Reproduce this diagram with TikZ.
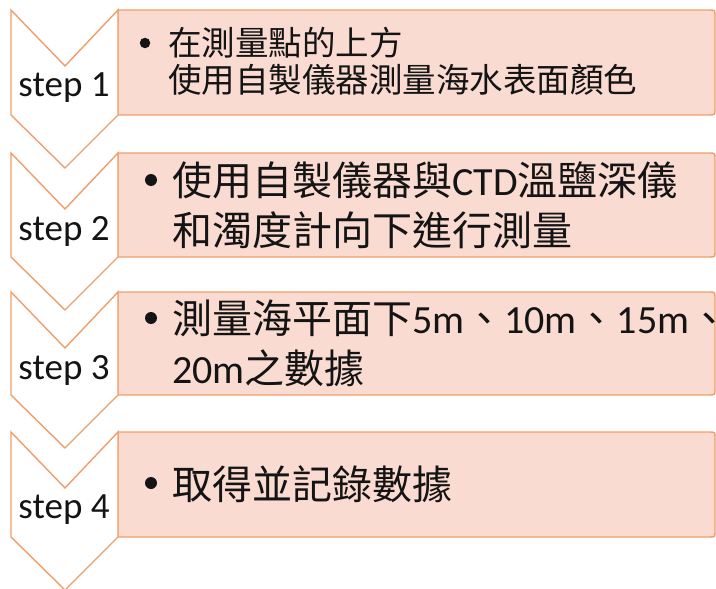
\documentclass[tikz,border=0pt]{standalone}
\usepackage{fontspec}
\setmainfont{Carlito}
\newfontfamily\cjk{Noto Sans CJK TC}
\newfontfamily\lat{Carlito}
\definecolor{edge}{RGB}{240,158,106}
\definecolor{boxfill}{RGB}{250,219,209}
\definecolor{ink}{RGB}{20,20,20}
\begin{document}
\begin{tikzpicture}[x=1pt,y=-1pt,
  chev/.style={draw=edge, fill=white, line width=1.4pt, line join=miter},
  panel/.style={draw=edge, fill=boxfill, line width=1.4pt},
  steplabel/.style={font=\fontsize{37}{40}\selectfont, text=ink, inner sep=0},
  dot/.style={circle, fill=ink, inner sep=0, minimum size=#1},
  body/.style={anchor=west, align=left, inner sep=0, text=ink}]
\useasboundingbox (0,0) rectangle (716,589);
\clip (0,0) rectangle (716,589);
\foreach \t/\b [count=\i] in {10/115,153/257,292/395,432/537} {
  \draw[panel] (118,\t) -- (709,\t) .. controls (715,\t) .. (715,\t+6)
     -- (715,\b-6) .. controls (715,\b) .. (709,\b) -- (118,\b) -- cycle;
  \draw[chev] (11,\t) -- (65,\t+56) -- (118,\t) -- (118,\b) -- (65,\b+53) -- (11,\b) -- cycle;
  \node[steplabel] (s\i) at (64,\t+78) {step \i};
}
% box 1
\node[dot=10.5pt] (b1) at (145,43) {};
\node[body, font={\cjk\fontsize{33.5}{37}\selectfont}] (t1) at (168,61.5)
  {在測量點的上方\\使用自製儀器測量海水表面顏色};
% box 2
\node[dot=12pt] (b2) at (151,180) {};
\node[body, font={\cjk\fontsize{40}{50}\selectfont}] (t2) at (172,205)
  {使用自製儀器與{\lat CTD}溫鹽深儀\\和濁度計向下進行測量};
% box 3
\node[dot=12pt] (b3) at (151,318) {};
\node[body, font={\cjk\fontsize{40}{50}\selectfont}] (t3) at (172,343)
  {測量海平面下{\lat 5m}、{\lat 10m}、{\lat 15m}、\\{\lat 20m}之數據};
% box 4
\node[dot=12pt] (b4) at (151,483) {};
\node[body, font={\cjk\fontsize{40}{50}\selectfont}] (t4) at (172,484)
  {取得並記錄數據};
\end{tikzpicture}
\end{document}
